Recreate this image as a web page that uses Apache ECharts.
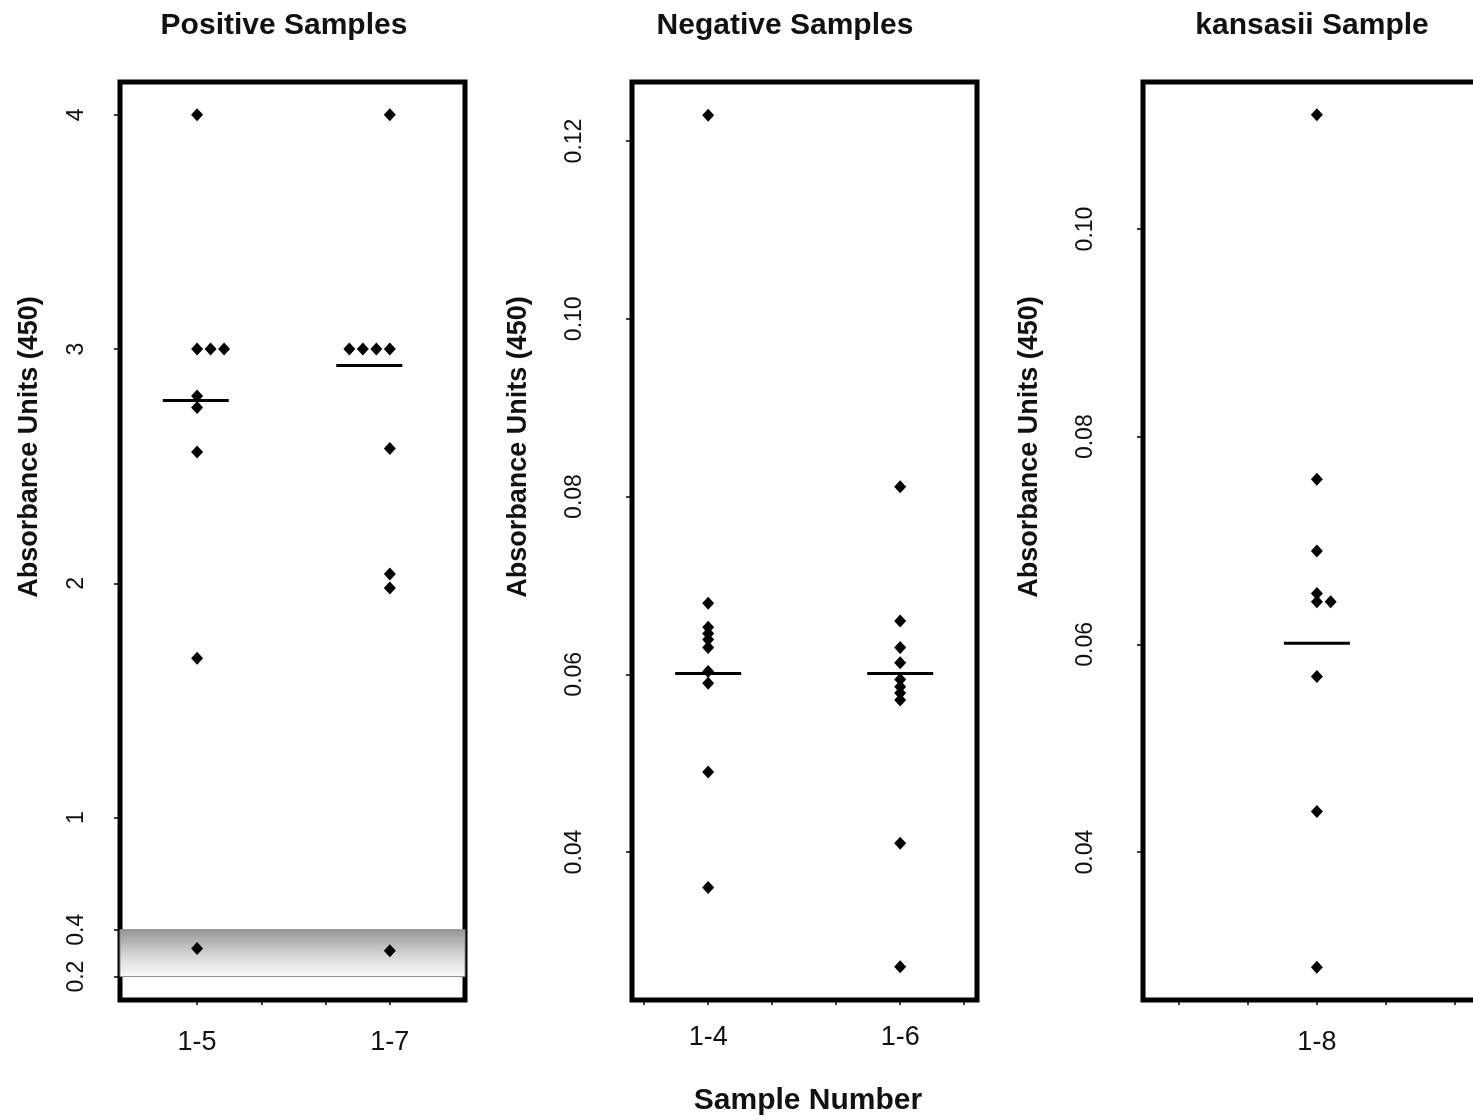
<!DOCTYPE html>
<html>
<head>
<meta charset="utf-8">
<script src="https://cdn.jsdelivr.net/npm/echarts@6/dist/echarts.min.js"></script>
<style>
html,body{margin:0;padding:0;background:#fff;}
#chart{width:1473px;height:1120px;}
</style>
</head>
<body>
<div id="chart"></div>
<script>
// ---------------- DATA ----------------
const positiveCategories = ['1-5', '1-7'];
const positive_1_5 = [4.0, 3.0, 3.0, 3.0, 2.80, 2.75, 2.56, 1.68, 0.32];
const positive_1_7 = [4.0, 3.0, 3.0, 3.0, 3.0, 2.575, 2.04, 1.98, 0.31];
const positiveMedians = [2.78, 2.93];
const positiveTicks = [0.2, 0.4, 1, 2, 3, 4];
const cutoffBand = [0.2, 0.4];

const negativeCategories = ['1-4', '1-6'];
const negative_1_4 = [0.1229, 0.068, 0.0653, 0.0646, 0.0639, 0.0630, 0.0603, 0.0590, 0.049, 0.036];
const negative_1_6 = [0.0811, 0.066, 0.0630, 0.0613, 0.0594, 0.0586, 0.0579, 0.0571, 0.041, 0.0271];
const negativeMedians = [0.0601, 0.0601];
const negativeTicks = [0.04, 0.06, 0.08, 0.10, 0.12];

const kansasiiCategories = ['1-8'];
const kansasii_1_8 = [0.111, 0.0759, 0.069, 0.0649, 0.0641, 0.0641, 0.0569, 0.0439, 0.0289];
const kansasiiMedians = [0.0601];
const kansasiiTicks = [0.04, 0.06, 0.08, 0.10];

const titles = ['Positive Samples', 'Negative Samples', 'kansasii Sample'];
const yAxisName = 'Absorbance Units (450)';
const xAxisName = 'Sample Number';

// ---------------- STYLE / LAYOUT ----------------
const SANS = '"Liberation Sans", Arial, Helvetica, sans-serif';
const INK = '#111';

// position of each category on its panel's x value axis
const panelCatPos = [[2, 5], [2, 5], [3]];
const panelStackDir = [[1, -1], [1, 1], [1]];
const panelStackStep = [0.21, 0.21, 0.2];
const panelMedianShift = [[-0.02, -0.32], [0, 0], [0]];
const panelXTicks = [[2, 3, 4, 5], [1, 2, 3, 4, 5, 6], [1, 2, 3, 4, 5]];
const panelXRange = [[0.8, 6.17], [0.81, 6.2], [0.48, 5.48]];
const panelYRange = [[0.1, 4.14], [0.02335, 0.12664], [0.02575, 0.11416]];
const gridLefts = [120, 632, 1143];
const yNameX = [30, 519, 1030];
const titleX = [284, 785, 1312];

function stackDots(values, xPos, dir, step) {
  const seen = {};
  return values.map(v => {
    const key = v.toFixed(5);
    seen[key] = (seen[key] === undefined ? -1 : seen[key]) + 1;
    return [xPos + dir * seen[key] * step, v];
  });
}

const grids = gridLefts.map(l => ({
  left: l, top: 82, width: 345, height: 918,
  show: true, borderColor: '#000', borderWidth: 5, backgroundColor: '#fff',
  outerBoundsMode: 'none', containLabel: false
}));

function xAxisCfg(i, cats) {
  const pos = panelCatPos[i];
  return {
    type: 'value', gridIndex: i, min: panelXRange[i][0], max: panelXRange[i][1],
    axisLine: {show: false},
    splitLine: {show: false},
    axisTick: {show: true, customValues: panelXTicks[i], length: 5, lineStyle: {color: '#000', width: 1.5}},
    axisLabel: {
      customValues: pos,
      formatter: v => { const k = pos.findIndex(p => Math.abs(p - v) < 1e-6); return k >= 0 ? cats[k] : ''; },
      margin: i === 1 ? 24 : 29, fontFamily: SANS, fontSize: 27, color: INK
    }
  };
}

function yAxisCfg(i, ticks, fmt, labelMargin, extra) {
  return Object.assign({
    type: 'value', gridIndex: i, min: panelYRange[i][0], max: panelYRange[i][1],
    axisLine: {show: false},
    splitLine: {show: false},
    axisTick: {show: true, customValues: ticks, length: 6, lineStyle: {color: '#000', width: 1.5}},
    axisLabel: {customValues: ticks, formatter: fmt, rotate: 90, margin: labelMargin,
      fontFamily: SANS, fontSize: 23, color: INK}
  }, extra || {});
}

const dotStyle = {symbol: 'diamond', symbolSize: [12, 13], itemStyle: {color: '#000', opacity: 1}};

function dotSeries(i, k, values, extra) {
  return Object.assign({
    type: 'scatter', xAxisIndex: i, yAxisIndex: i,
    data: stackDots(values, panelCatPos[i][k], panelStackDir[i][k], panelStackStep[i]),
    silent: true, z: 3
  }, dotStyle, extra || {});
}

function medianSeries(i, medians) {
  return {
    type: 'scatter', xAxisIndex: i, yAxisIndex: i, silent: true, z: 4,
    symbol: 'rect', symbolSize: [66, 3], itemStyle: {color: '#000', opacity: 1},
    data: medians.map((m, k) => [panelCatPos[i][k] + panelMedianShift[i][k], m])
  };
}

const bandArea = {
  silent: true,
  itemStyle: {
    color: {type: 'linear', x: 0, y: 0, x2: 0, y2: 1, colorStops: [
      {offset: 0, color: '#959595'}, {offset: 0.55, color: '#d6d6d6'}, {offset: 1, color: '#fcfcfc'}]},
    borderColor: '#8a8a8a', borderWidth: 1, opacity: 1
  },
  data: [[{yAxis: cutoffBand[1]}, {yAxis: cutoffBand[0]}]]
};

const textEls = [];
titles.forEach((t, i) => textEls.push({type: 'text', x: titleX[i], y: 26,
  style: {text: t, font: 'bold 30px ' + SANS, fill: INK, textAlign: 'center', textVerticalAlign: 'middle'}}));
yNameX.forEach(x => textEls.push({type: 'text', x: x, y: 447, rotation: Math.PI / 2,
  style: {text: yAxisName, font: 'bold 27px ' + SANS, fill: INK, textAlign: 'center', textVerticalAlign: 'middle'}}));
textEls.push({type: 'text', x: 808, y: 1101,
  style: {text: xAxisName, font: 'bold 30px ' + SANS, fill: INK, textAlign: 'center', textVerticalAlign: 'middle'}});

const option = {
  animation: false,
  backgroundColor: '#fff',
  grid: grids,
  xAxis: [
    xAxisCfg(0, positiveCategories),
    xAxisCfg(1, negativeCategories),
    xAxisCfg(2, kansasiiCategories)
  ],
  yAxis: [
    yAxisCfg(0, positiveTicks, v => String(v), 32, {
      breaks: [{start: 0.42, end: 0.98, gap: '11.2%'}],
      breakArea: {show: false, itemStyle: {opacity: 0, borderWidth: 0}}
    }),
    yAxisCfg(1, negativeTicks, v => v.toFixed(2), 46),
    yAxisCfg(2, kansasiiTicks, v => v.toFixed(2), 46)
  ],
  series: [
    dotSeries(0, 0, positive_1_5, {markArea: bandArea}),
    dotSeries(0, 1, positive_1_7),
    medianSeries(0, positiveMedians),
    dotSeries(1, 0, negative_1_4),
    dotSeries(1, 1, negative_1_6),
    medianSeries(1, negativeMedians),
    dotSeries(2, 0, kansasii_1_8),
    medianSeries(2, kansasiiMedians)
  ],
  graphic: textEls
};

const chart = echarts.init(document.getElementById('chart'), null, {renderer: 'canvas'});
chart.setOption(option);
</script>
</body>
</html>
